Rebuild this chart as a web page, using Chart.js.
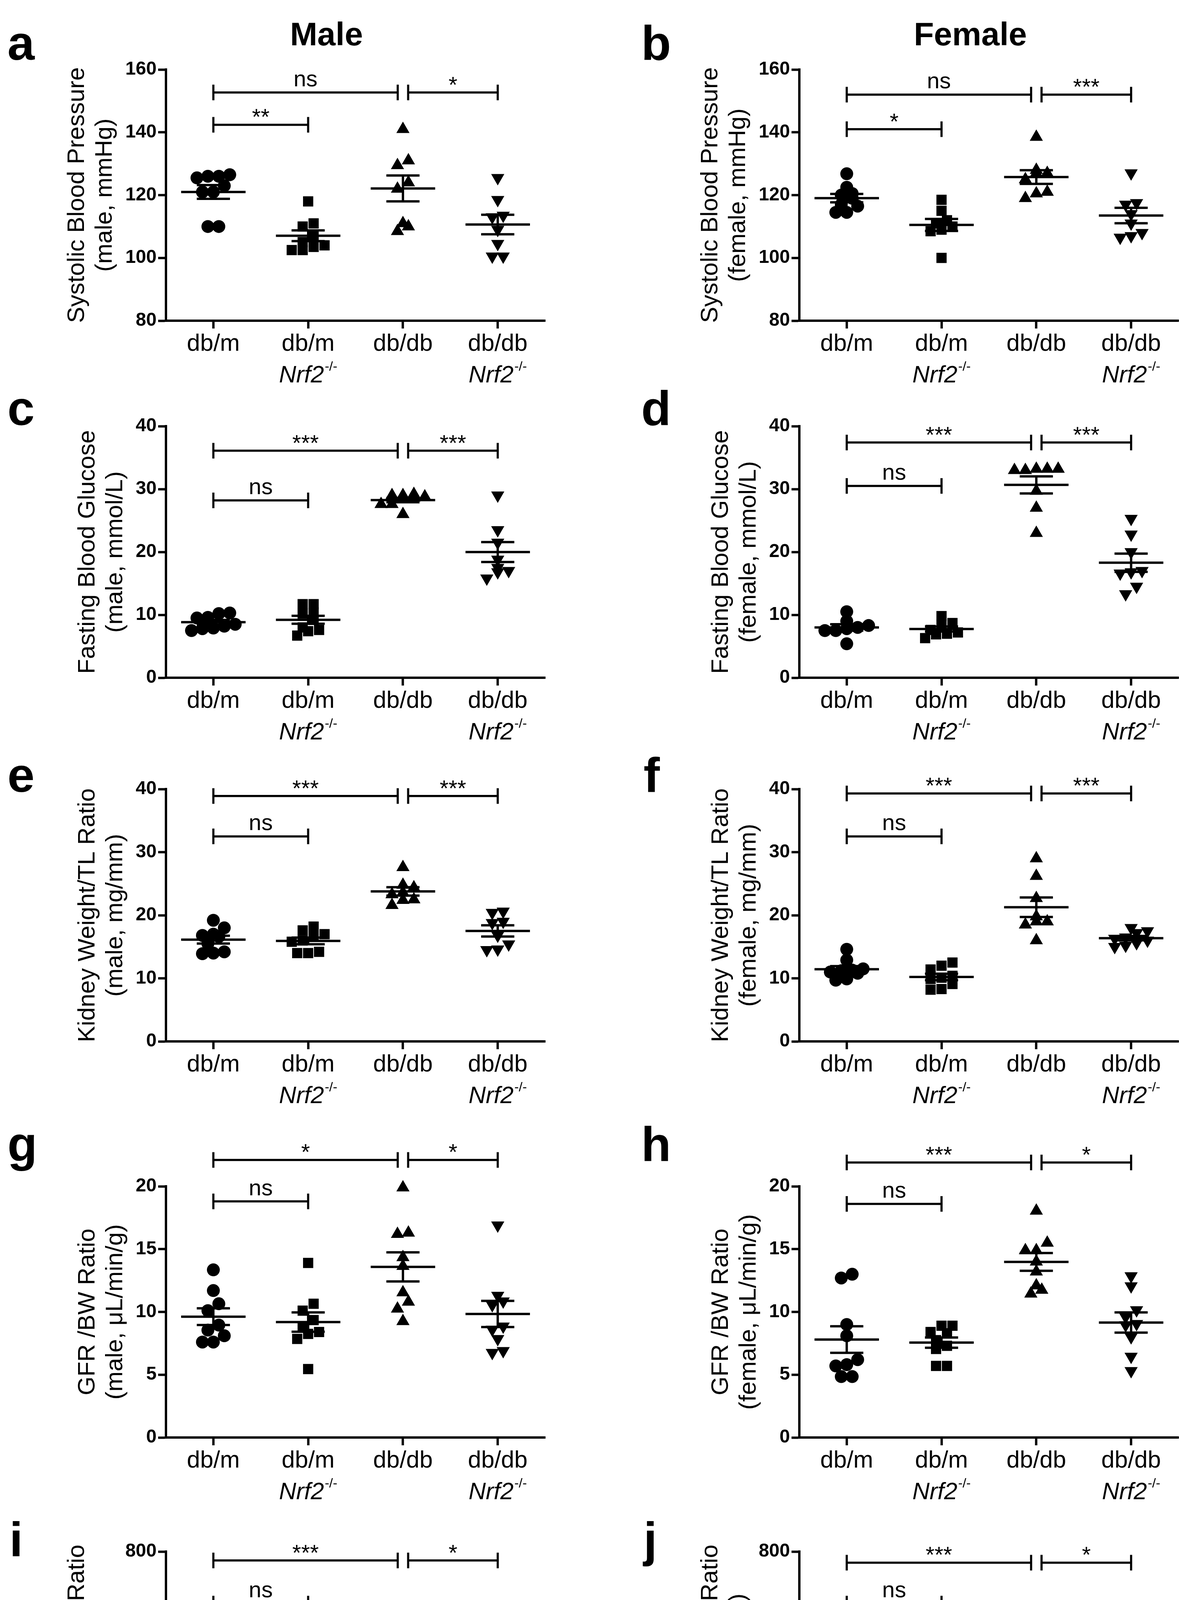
<!DOCTYPE html>
<html>
<head>
<meta charset="utf-8">
<script src="https://cdn.jsdelivr.net/npm/chart.js@4.4.1/dist/chart.umd.min.js"></script>
<style>
  html, body { margin: 0; padding: 0; background: #fff; }
  body { width: 3050px; height: 4811px; position: relative; overflow: hidden;
         font-family: "Liberation Sans", Arial, sans-serif; color: #000; }
  canvas { position: absolute; }
  .lbl { position: absolute; font-weight: bold; line-height: 1; white-space: nowrap; }
  .letter { font-size: 125px; }
  .head { font-size: 84px; transform: translateX(-50%); }
</style>
</head>
<body>
<div class="lbl head" style="left:836px;top:45px">Male</div>
<div class="lbl head" style="left:2485px;top:45px">Female</div>
<div class="lbl letter" style="left:19px;top:47px">a</div>
<div class="lbl letter" style="left:1642px;top:47px">b</div>
<div class="lbl letter" style="left:19px;top:982px">c</div>
<div class="lbl letter" style="left:1642px;top:982px">d</div>
<div class="lbl letter" style="left:19px;top:1921px">e</div>
<div class="lbl letter" style="left:1648px;top:1921px">f</div>
<div class="lbl letter" style="left:19px;top:2866px">g</div>
<div class="lbl letter" style="left:1642px;top:2866px">h</div>
<div class="lbl letter" style="left:24px;top:3878px">i</div>
<div class="lbl letter" style="left:1648px;top:3878px">j</div>

<script>
// groups on the x axis
const groups = ['db/m', 'db/m', 'db/db', 'db/db'];
const knockout = [false, true, false, true];

// tick labels
const sbpTicks = [80, 100, 120, 140, 160];
const glucoseTicks = [0, 10, 20, 30, 40];
const kidneyTicks = [0, 10, 20, 30, 40];
const gfrTicks = [0, 5, 10, 15, 20];
const acrTicks = [0, 200, 400, 600, 800];

// values per group: db/m, db/m Nrf2-/-, db/db, db/db Nrf2-/-
const sbpMale = [
  [126, 126.5, 126, 125.5, 123, 121, 121, 110, 110],
  [118, 111, 110, 107, 105, 104, 103.5, 102.5, 102.5],
  [141, 131, 129.5, 124, 122, 111, 110, 108.5],
  [125.5, 118.5, 113.5, 113, 109, 104.5, 100.5, 100.5]
];
const sbpFemale = [
  [126.8, 122.5, 120.5, 120, 119, 117, 116.5, 114.5, 114.5],
  [118.5, 115, 112, 111, 110, 109, 108.5, 100],
  [138.5, 128, 127, 127, 125, 121, 120.5, 119],
  [127, 117.5, 117, 114, 111, 108, 107, 106.5]
];
const glucoseMale = [
  [10.3, 10.2, 9.5, 9.6, 8.5, 8.2, 7.8, 7.5, 7.9],
  [11.7, 11.7, 10.4, 10.2, 9.2, 8.0, 6.7, 7.6, 7.4],
  [28.8, 29.0, 29.2, 29.0, 28.6, 27.6, 27.6, 28.4, 26.0],
  [29.0, 23.5, 21.5, 18.8, 17.5, 17.0, 16.8, 15.8]
];
const glucoseFemale = [
  [10.5, 9.0, 8.3, 8.0, 7.8, 7.5, 7.5, 5.4],
  [9.8, 8.7, 8.5, 7.6, 7.2, 7.0, 6.9, 6.3],
  [33.2, 33.2, 33.0, 33.2, 33.0, 29.7, 27.0, 23.0],
  [25.3, 22.8, 20.0, 17.0, 16.8, 16.6, 14.5, 13.3]
];
const kidneyMale = [
  [19.2, 18.0, 17.0, 16.8, 16.6, 15.5, 14.2, 14.0, 13.9],
  [18.2, 17.6, 17.0, 16.6, 16.0, 15.8, 14.2, 14.0, 14.0],
  [27.6, 24.8, 24.4, 23.6, 23.3, 22.5, 22.4, 21.6],
  [20.6, 20.4, 19.0, 18.8, 16.8, 15.4, 14.6, 14.5]
];
const kidneyFemale = [
  [14.6, 12.9, 11.5, 11.3, 11.0, 11.2, 10.8, 9.9, 9.7],
  [12.5, 12.0, 11.4, 10.4, 10.1, 9.9, 9.1, 8.3, 8.2],
  [29.0, 26.2, 22.7, 19.8, 19.0, 19.0, 18.5, 16.0],
  [18.0, 17.5, 17.2, 16.5, 16.3, 16.0, 15.6, 15.2, 15.0]
];
const gfrMale = [
  [13.35, 11.7, 10.65, 10.1, 8.95, 8.55, 8.1, 7.6, 7.6],
  [13.9, 10.65, 10.1, 9.35, 8.8, 8.4, 8.25, 7.85, 5.45],
  [19.9, 16.3, 16.2, 14.35, 13.65, 11.55, 10.8, 10.25, 9.25],
  [16.9, 11.3, 10.85, 10.55, 8.85, 8.6, 7.85, 6.9, 6.75]
];
const gfrFemale = [
  [13.0, 12.7, 9.0, 8.1, 6.2, 5.8, 5.7, 4.85, 4.85],
  [8.9, 8.9, 8.4, 8.3, 7.75, 7.3, 7.05, 5.7, 5.7],
  [18.05, 15.5, 14.9, 14.9, 14.0, 13.2, 12.1, 11.75, 11.45],
  [12.85, 12.05, 10.15, 9.6, 9.05, 8.95, 8.0, 6.45, 5.3]
];
const acrMale = [
  [182, 134, 130, 118, 110, 80, 78, 22, 10],
  [131, 107, 87, 60, 51, 42, 39, 30, 15],
  [606, 501, 460, 457, 448, 350, 326, 216],
  [406, 313, 305, 275, 257, 204, 191, 137]
];
const acrFemale = [
  [66, 60, 51, 48, 39, 36, 33, 30, 15],
  [119, 101, 84, 69, 66, 54, 48, 33, 27],
  [594, 495, 395, 395, 365, 310, 292, 256, 218],
  [403, 352, 301, 280, 251, 242, 233, 188, 107]
];

// significance brackets: from group, to group, y value, label
const sbpMaleSig = [[0, 1, 142.4, '**'], [0, 1.945, 152.7, 'ns'], [2.055, 3, 152.7, '*']];
const sbpFemaleSig = [[0, 1, 141, '*'], [0, 1.945, 152, 'ns'], [2.055, 3, 152, '***']];
const glucoseMaleSig = [[0, 1, 28.2, 'ns'], [0, 1.945, 36.1, '***'], [2.055, 3, 36.1, '***']];
const glucoseFemaleSig = [[0, 1, 30.5, 'ns'], [0, 1.945, 37.4, '***'], [2.055, 3, 37.4, '***']];
const kidneyMaleSig = [[0, 1, 32.5, 'ns'], [0, 1.945, 38.9, '***'], [2.055, 3, 38.9, '***']];
const kidneyFemaleSig = [[0, 1, 32.5, 'ns'], [0, 1.945, 39.3, '***'], [2.055, 3, 39.3, '***']];
const gfrMaleSig = [[0, 1, 18.8, 'ns'], [0, 1.945, 22.1, '*'], [2.055, 3, 22.1, '*']];
const gfrFemaleSig = [[0, 1, 18.6, 'ns'], [0, 1.945, 21.9, '***'], [2.055, 3, 21.9, '*']];
const acrMaleSig = [[0, 1, 636, 'ns'], [0, 1.945, 772, '***'], [2.055, 3, 772, '*']];
const acrFemaleSig = [[0, 1, 636, 'ns'], [0, 1.945, 765, '***'], [2.055, 3, 765, '*']];

// page layout
const FONT = '"Liberation Sans", Arial, sans-serif';
const rowTop = [178, 1091, 2020, 3037, 3972];
const rowBottom = [821, 1735, 2666, 3680, 4622];
const rowPadTop = [70, 70, 70, 150, 70];
const colLeft = [0, 1525];
const colAxisX = [425, 2047];
const colRightX = [1396, 3018];
const CANVAS_W = 1525;
const X_SCALE_H = 170;
const CAT_PX = (colRightX[0] - colAxisX[0]) / 4;
const SPACING = 28;
const ROW_GAP = 20;
const MEAN_HALF = 0.34;
const CAP_HALF = 0.175;
const AXIS_W = 6;

const markerStyle = ['circle', 'rect', 'triangle', 'triangle'];
const markerRotation = [0, 0, 0, 180];
const markerRadius = [16.5, 18.5, 19.5, 19.5];

const panels = [
  { row: 0, col: 0, values: sbpMale, ticks: sbpTicks, sig: sbpMaleSig, title: ['Systolic Blood Pressure', '(male, mmHg)'] },
  { row: 0, col: 1, values: sbpFemale, ticks: sbpTicks, sig: sbpFemaleSig, title: ['Systolic Blood Pressure', '(female, mmHg)'] },
  { row: 1, col: 0, values: glucoseMale, ticks: glucoseTicks, sig: glucoseMaleSig, title: ['Fasting Blood Glucose', '(male, mmol/L)'] },
  { row: 1, col: 1, values: glucoseFemale, ticks: glucoseTicks, sig: glucoseFemaleSig, title: ['Fasting Blood Glucose', '(female, mmol/L)'] },
  { row: 2, col: 0, values: kidneyMale, ticks: kidneyTicks, sig: kidneyMaleSig, title: ['Kidney Weight/TL Ratio', '(male, mg/mm)'] },
  { row: 2, col: 1, values: kidneyFemale, ticks: kidneyTicks, sig: kidneyFemaleSig, title: ['Kidney Weight/TL Ratio', '(female, mg/mm)'] },
  { row: 3, col: 0, values: gfrMale, ticks: gfrTicks, sig: gfrMaleSig, title: ['GFR /BW Ratio', '(male, \u03BCL/min/g)'] },
  { row: 3, col: 1, values: gfrFemale, ticks: gfrTicks, sig: gfrFemaleSig, title: ['GFR /BW Ratio', '(female, \u03BCL/min/g)'] },
  { row: 4, col: 0, values: acrMale, ticks: acrTicks, sig: acrMaleSig, title: ['Albumin/Creatinine Ratio', '(male, \u03BCg/mg)'] },
  { row: 4, col: 1, values: acrFemale, ticks: acrTicks, sig: acrFemaleSig, title: ['Albumin/Creatinine Ratio', '(female, \u03BCg/mg)'] }
];

function mean(a) { return a.reduce((s, v) => s + v, 0) / a.length; }
function sem(a) {
  const m = mean(a);
  return Math.sqrt(a.reduce((s, v) => s + (v - m) * (v - m), 0) / (a.length - 1) / a.length);
}

// spread points that sit at about the same height into centred rows
function swarm(vals, pxPerUnit) {
  const order = vals.map((v, i) => i).sort((p, q) => vals[p] - vals[q]);
  const off = new Array(vals.length).fill(0);
  let row = [];
  const flush = () => {
    row.forEach((k, j) => { off[k] = (j - (row.length - 1) / 2) * SPACING / CAT_PX; });
    row = [];
  };
  order.forEach(k => {
    if (row.length && (vals[k] - vals[row[0]]) * pxPerUnit > ROW_GAP) flush();
    row.push(k);
  });
  flush();
  return off;
}

function extras(p) {
  return {
    id: 'extras',
    afterDatasetsDraw(chart) {
      const ctx = chart.ctx, x = chart.scales.x, y = chart.scales.y;
      const seg = (x1, y1, x2, y2) => { ctx.beginPath(); ctx.moveTo(x1, y1); ctx.lineTo(x2, y2); ctx.stroke(); };
      ctx.save();
      ctx.strokeStyle = '#000';
      ctx.fillStyle = '#000';
      ctx.lineWidth = 6;

      // mean and SEM
      p.values.forEach((vals, i) => {
        const m = mean(vals), s = sem(vals);
        const ym = y.getPixelForValue(m), yt = y.getPixelForValue(m + s), yb = y.getPixelForValue(m - s);
        seg(x.getPixelForValue(i - MEAN_HALF), ym, x.getPixelForValue(i + MEAN_HALF), ym);
        seg(x.getPixelForValue(i - CAP_HALF), yt, x.getPixelForValue(i + CAP_HALF), yt);
        seg(x.getPixelForValue(i - CAP_HALF), yb, x.getPixelForValue(i + CAP_HALF), yb);
        seg(x.getPixelForValue(i), yt, x.getPixelForValue(i), yb);
      });

      // brackets
      ctx.lineWidth = 5.5;
      p.sig.forEach(([a, b, v, lab]) => {
        const xa = x.getPixelForValue(a), xb = x.getPixelForValue(b), yv = y.getPixelForValue(v);
        seg(xa, yv, xb, yv);
        seg(xa, yv - 20, xa, yv + 20);
        seg(xb, yv - 20, xb, yv + 20);
        const ns = lab === 'ns';
        ctx.font = (ns ? 58 : 58) + 'px ' + FONT;
        ctx.textAlign = 'center';
        ctx.textBaseline = 'alphabetic';
        ctx.fillText(lab, (xa + xb) / 2, yv - (ns ? 16 : 0));
      });

      // second line of the knockout labels
      const base = x.top + 158;
      knockout.forEach((ko, i) => {
        if (!ko) return;
        ctx.font = 'italic 61px ' + FONT;
        const w1 = ctx.measureText('Nrf2').width;
        ctx.font = '34px ' + FONT;
        const w2 = ctx.measureText('-/-').width;
        const x0 = x.getPixelForValue(i) - (w1 + w2 + 2) / 2;
        ctx.textAlign = 'left';
        ctx.textBaseline = 'alphabetic';
        ctx.font = 'italic 61px ' + FONT;
        ctx.fillText('Nrf2', x0, base);
        ctx.font = '34px ' + FONT;
        ctx.fillText('-/-', x0 + w1 + 2, base - 30);
      });
      ctx.restore();
    }
  };
}

panels.forEach(p => {
  const min = p.ticks[0], max = p.ticks[p.ticks.length - 1];
  const plotH = rowBottom[p.row] - rowTop[p.row];
  const pxPerUnit = plotH / (max - min);
  const padTop = rowPadTop[p.row];
  const H = padTop + plotH + X_SCALE_H;

  const canvas = document.createElement('canvas');
  canvas.width = CANVAS_W;
  canvas.height = H;
  canvas.style.left = colLeft[p.col] + 'px';
  canvas.style.top = (rowTop[p.row] - padTop) + 'px';
  canvas.style.width = CANVAS_W + 'px';
  canvas.style.height = H + 'px';
  document.body.appendChild(canvas);

  const datasets = p.values.map((vals, i) => {
    const off = swarm(vals, pxPerUnit);
    return {
      data: vals.map((v, k) => ({ x: i + off[k], y: v })),
      pointStyle: markerStyle[i],
      pointRotation: markerRotation[i],
      pointRadius: markerRadius[i],
      pointHoverRadius: markerRadius[i],
      pointBackgroundColor: '#000',
      pointBorderColor: '#000',
      pointBorderWidth: 0,
      clip: false
    };
  });

  const axisGrid = { display: true, drawOnChartArea: false, drawTicks: true, tickLength: 20, tickWidth: AXIS_W, tickColor: '#000' };
  const axisBorder = { display: true, color: '#000', width: AXIS_W };

  const options = {
    responsive: false,
    animation: false,
    devicePixelRatio: 1,
    layout: { padding: { left: 0, right: colLeft[p.col] + CANVAS_W - colRightX[p.col], top: padTop, bottom: 0 } },
    plugins: { legend: { display: false }, tooltip: { enabled: false } },
    scales: {
      x: {
        type: 'linear', min: -0.5, max: 3.5,
        afterBuildTicks: s => { s.ticks = groups.map((g, i) => ({ value: i })); },
        afterFit: s => { s.height = X_SCALE_H; },
        ticks: {
          callback: v => groups[v],
          font: { family: FONT, size: 61, lineHeight: 1 },
          color: '#000', padding: 10, maxRotation: 0, autoSkip: false
        },
        grid: axisGrid,
        border: axisBorder
      },
      y: {
        min: min, max: max,
        afterBuildTicks: s => { s.ticks = p.ticks.map(v => ({ value: v })); },
        ticks: { font: { family: FONT, size: 48, weight: 'bold' }, color: '#000', padding: 4 },
        grid: axisGrid,
        border: axisBorder,
        title: {
          display: true, text: p.title, color: '#000',
          font: { family: FONT, size: 62, lineHeight: 1.15 },
          padding: { top: 0, bottom: 12 }
        }
      }
    }
  };

  const chart = new Chart(canvas, { type: 'scatter', data: { datasets }, options, plugins: [extras(p)] });
  // put the y axis line where the reference has it
  chart.config.options.layout.padding.left = colAxisX[p.col] - colLeft[p.col] - chart.scales.y.width;
  chart.update('none');
});
</script>
</body>
</html>
